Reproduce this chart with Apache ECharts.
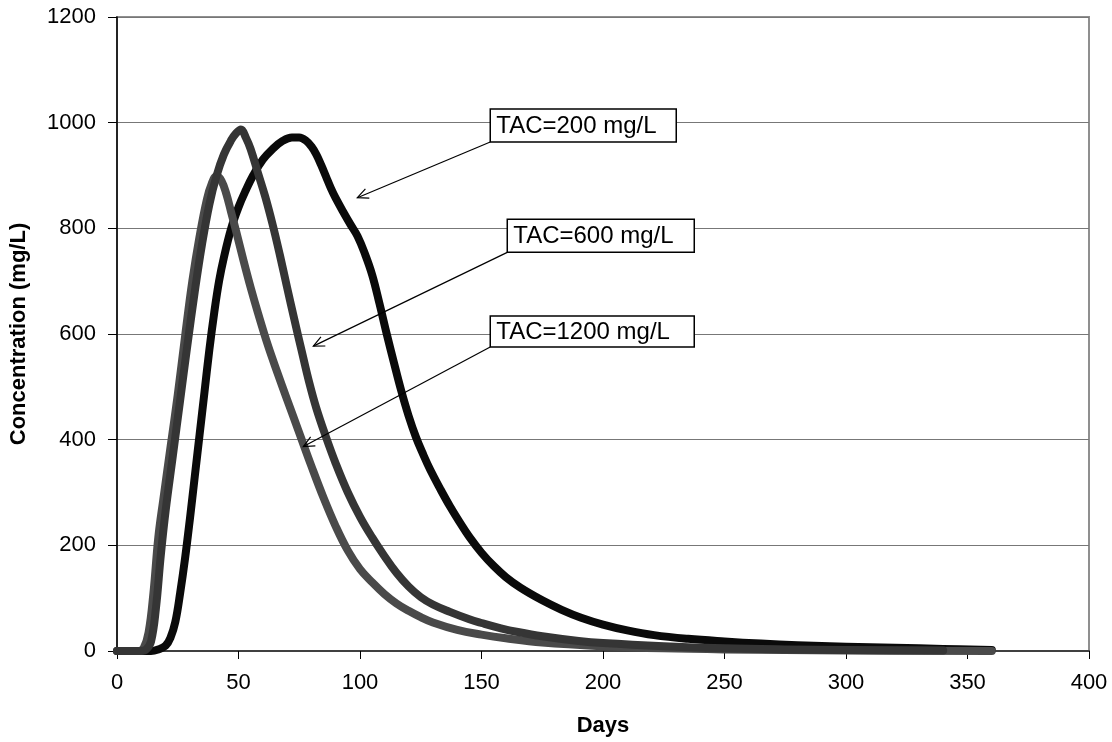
<!DOCTYPE html>
<html><head><meta charset="utf-8">
<script src="https://cdn.jsdelivr.net/npm/echarts@6/dist/echarts.min.js"></script>
<style>html,body{margin:0;padding:0;background:#fff}#c{width:1112px;height:742px}</style>
</head><body><div id="c"></div>
<script>
// ---- data ----
const seriesNames = ['TAC=200 mg/L', 'TAC=600 mg/L', 'TAC=1200 mg/L'];

const days200 = [0,14,17,20,22,24,26,28,30,32,34,36,38,40,42,44,47,50,53,56,60,64,68,72,75,78,80,82,84,86,88,90,93,96,99,102,105,108,111,114,117,120,123,126,129,133,137,141,145,150,155,160,166,175,183,191,200,210,221,235,250,265,280,300,320,340,360];
const conc200 = [0,0,3,10,25,55,110,175,250,330,410,490,570,640,700,745,800,840,872,900,930,950,965,972,972,965,955,940,920,898,876,857,832,808,785,752,712,658,600,545,492,445,405,372,342,307,274,244,216,186,161,140,120,96,78,63,50,39,30,23,18,14,11,8,6,4,2];

const days600 = [0,10,12,14,16,18,20,23,26,29,32,35,38,41,44,47,49,51,53,55,58,61,64,67,70,73,76,79,82,86,90,95,100,105,110,115,120,125,130,137,145,150,158,165,175,190,200,225,250,275,300,340];
const conc600 = [0,0,3,18,80,180,265,370,475,580,680,770,845,900,940,967,980,987,972,950,905,860,808,750,688,627,568,510,460,405,355,300,254,215,180,148,122,102,88,74,60,53,43,36,28,19,15,9,5,3,2,1];

const days1200 = [0,9,11,13,15,17,19,22,25,28,31,34,37,39,41,43,45,47,49,52,55,58,62,66,70,75,80,85,90,95,100,105,110,115,120,125,130,140,150,160,175,200,225,250,300,360];
const conc1200 = [0,0,6,35,110,215,285,385,485,595,700,785,855,885,899,890,865,830,795,740,688,640,580,527,476,413,350,290,236,190,155,130,108,90,76,64,54,40,31,24,16,9,5,3,1,0];

const xTicks = [0,50,100,150,200,250,300,350,400];
const yTicks = [0,200,400,600,800,1000,1200];

// annotation anchors (data coordinates): box top-left and arrow tip
const annLabels = ['TAC=200 mg/L', 'TAC=600 mg/L', 'TAC=1200 mg/L'];
const annBoxDay = [153.6, 160.6, 153.6];
const annBoxConc = [1026, 817, 634];
const annTipDay = [98.9, 80.8, 76.7];
const annTipConc = [858, 577, 387];

// ---- chart ----
const FONT = '"Liberation Sans", Arial, sans-serif';
const chart = echarts.init(document.getElementById('c'), null, {renderer: 'canvas'});
const pairs = (xs, ys) => xs.map((x, i) => [x, ys[i]]);
const colors = ['#0a0a0a', '#353535', '#4a4a4a'];
const dataSets = [pairs(days200, conc200), pairs(days600, conc600), pairs(days1200, conc1200)];
const zs = [2, 4, 3];

chart.setOption({
  animation: false,
  backgroundColor: '#fff',
  grid: {left: 116.5, right: 23, top: 17, bottom: 89, show: true, borderColor: '#8f8f8f', borderWidth: 2, backgroundColor: '#fff'},
  xAxis: {
    type: 'value', min: xTicks[0], max: xTicks[xTicks.length - 1], interval: 50,
    name: 'Days', nameLocation: 'middle', nameGap: 64,
    nameTextStyle: {fontFamily: FONT, fontSize: 22, fontWeight: 'bold', color: '#000'},
    axisLine: {show: true, onZero: false, lineStyle: {color: '#404040', width: 2}},
    axisTick: {show: true, inside: false, length: 8, lineStyle: {color: '#000', width: 1}},
    axisLabel: {fontFamily: FONT, fontSize: 22, color: '#000', margin: 21, formatter: v => String(v)},
    splitLine: {show: false}
  },
  yAxis: {
    type: 'value', min: yTicks[0], max: yTicks[yTicks.length - 1], interval: 200,
    name: 'Concentration (mg/L)', nameLocation: 'middle', nameGap: 87,
    nameTextStyle: {fontFamily: FONT, fontSize: 22, fontWeight: 'bold', color: '#000'},
    axisLine: {show: true, onZero: false, lineStyle: {color: '#000', width: 1.5}},
    axisTick: {show: true, inside: false, length: 9, lineStyle: {color: '#000', width: 1}},
    axisLabel: {fontFamily: FONT, fontSize: 22, color: '#000', margin: 21, formatter: v => String(v)},
    splitLine: {show: true, lineStyle: {color: '#777', width: 1}}
  },
  series: dataSets.map((d, i) => ({
    name: seriesNames[i], type: 'line', data: d, showSymbol: false, smooth: 0.4,
    z: zs[i], clip: false,
    lineStyle: {color: colors[i], width: 8, cap: 'round', join: 'round'},
    itemStyle: {color: colors[i]}
  }))
});

// annotations
const boxW = [186, 187, 204], boxH = [33, 33, 31];
const gfx = [];
annLabels.forEach((t, i) => {
  const p = chart.convertToPixel({gridIndex: 0}, [annBoxDay[i], annBoxConc[i]]);
  const tip = chart.convertToPixel({gridIndex: 0}, [annTipDay[i], annTipConc[i]]);
  const sx = p[0], sy = p[1] + boxH[i];
  gfx.push({type: 'line', z: 100, shape: {x1: sx, y1: sy, x2: tip[0], y2: tip[1]}, style: {stroke: '#000', lineWidth: 1.2}});
  const dx = tip[0] - sx, dy = tip[1] - sy, L = Math.hypot(dx, dy);
  const ux = dx / L, uy = dy / L, hl = 12, a = 25 * Math.PI / 180;
  const rot = (ang) => [ux * Math.cos(ang) - uy * Math.sin(ang), ux * Math.sin(ang) + uy * Math.cos(ang)];
  const r1 = rot(a), r2 = rot(-a);
  gfx.push({type: 'polyline', z: 100, shape: {points: [[tip[0] - hl * r1[0], tip[1] - hl * r1[1]], tip, [tip[0] - hl * r2[0], tip[1] - hl * r2[1]]]}, style: {stroke: '#000', lineWidth: 1.2, fill: null}});
  gfx.push({type: 'rect', z: 101, shape: {x: p[0], y: p[1], width: boxW[i], height: boxH[i]}, style: {fill: '#fff', stroke: '#000', lineWidth: 1.5}});
  gfx.push({type: 'text', z: 102, style: {text: t, x: p[0] + 6, y: p[1] + boxH[i] / 2 + 1, font: '24px ' + FONT, fill: '#000', verticalAlign: 'middle', align: 'left'}});
});
chart.setOption({graphic: gfx});
</script>
</body></html>
